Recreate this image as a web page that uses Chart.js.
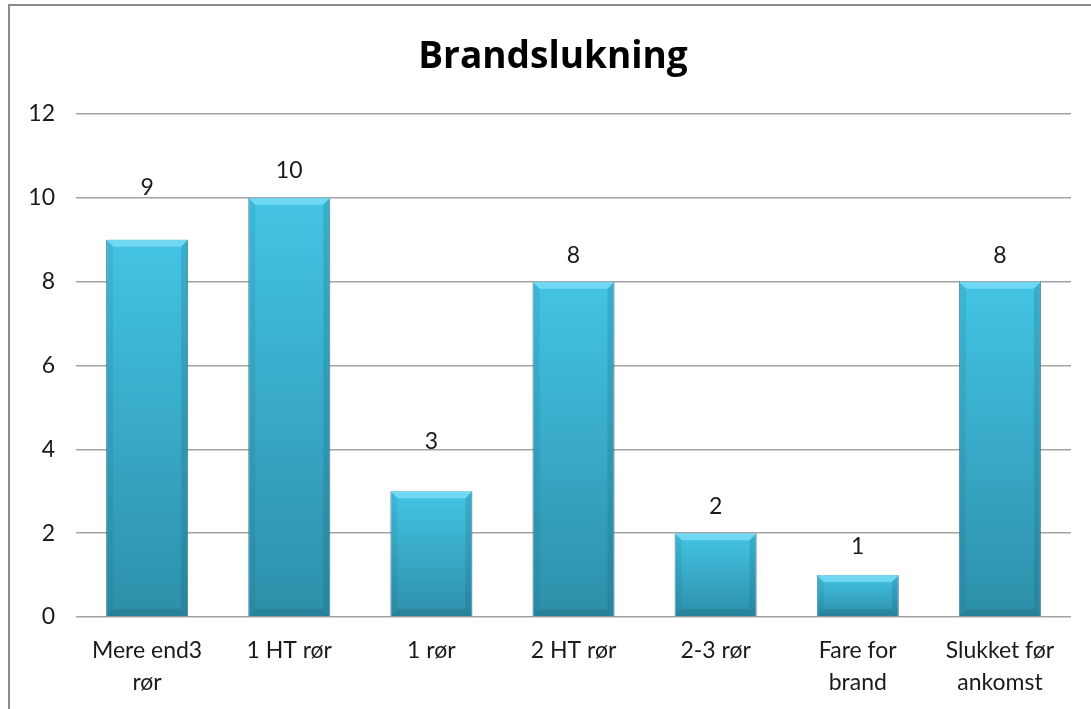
<!DOCTYPE html>
<html lang="da">
<head>
  <meta charset="UTF-8">
  <title>Brandslukning</title>
  <script src="https://cdn.jsdelivr.net/npm/chart.js"></script>
  <style>
    html, body { margin: 0; padding: 0; background: #fff; overflow: hidden; }
    #wrap { position: absolute; left: 0; top: 0; width: 1091px; height: 709px; }
    #frame { position: absolute; left: 8px; top: 4px; width: 1200px; height: 800px; border: 2px solid #8c8c8c; pointer-events: none; }
  </style>
</head>
<body>
  <div id="wrap"><canvas id="chart" width="1091" height="709"></canvas></div>
  <div id="frame"></div>
  <script>
    const titleText = 'Brandslukning';
    const categories = [['Mere end3', 'rør'], '1 HT rør', '1 rør', '2 HT rør', '2-3 rør', ['Fare for', 'brand'], ['Slukket før', 'ankomst']];
    const values = [9, 10, 3, 8, 2, 1, 8];
    const yMin = 0, yMax = 12, yStep = 2;

    const FONT = 'Lato, "Open Sans", sans-serif';

    // title drawn by hand so it can sit a bit right of the canvas centre, like the original
    const chartTitle = {
      id: 'chartTitle',
      afterDraw(chart, args, opts) {
        const c = chart.ctx;
        c.save();
        c.fillStyle = '#000';
        c.font = 'bold 37px "Open Sans", Lato, sans-serif';
        c.textAlign = 'center';
        c.textBaseline = 'middle';
        c.fillText(opts.text, opts.x, opts.y);
        c.restore();
      }
    };

    // value labels above bars, with a little bevel on each bar
    const barDecor = {
      id: 'barDecor',
      afterDatasetsDraw(chart, args, opts) {
        const c = chart.ctx;
        const meta = chart.getDatasetMeta(0);
        meta.data.forEach((bar, i) => {
          const left = bar.x - bar.width / 2, right = bar.x + bar.width / 2;
          const top = bar.y, bottom = bar.base;
          const b = 7;
          c.save();
          // top bevel
          c.fillStyle = 'rgba(120,220,245,0.85)';
          c.beginPath();
          c.moveTo(left, top); c.lineTo(right, top);
          c.lineTo(right - b, top + b); c.lineTo(left + b, top + b);
          c.closePath(); c.fill();
          // side shading
          c.fillStyle = 'rgba(20,90,115,0.2)';
          c.beginPath();
          c.moveTo(right, top); c.lineTo(right, bottom);
          c.lineTo(right - b, bottom - b); c.lineTo(right - b, top + b);
          c.closePath(); c.fill();
          c.fillStyle = 'rgba(20,90,115,0.12)';
          c.beginPath();
          c.moveTo(left, top); c.lineTo(left, bottom);
          c.lineTo(left + b, bottom - b); c.lineTo(left + b, top + b);
          c.closePath(); c.fill();
          c.fillStyle = 'rgba(20,80,100,0.22)';
          c.beginPath();
          c.moveTo(left, bottom); c.lineTo(right, bottom);
          c.lineTo(right - b, bottom - b); c.lineTo(left + b, bottom - b);
          c.closePath(); c.fill();
          // value label
          c.fillStyle = '#1a1a1a';
          c.font = '23px ' + FONT;
          c.textAlign = 'center';
          c.textBaseline = 'middle';
          c.fillText(String(values[i]), bar.x, top - opts.offsets[i]);
          c.restore();
        });
      }
    };

    new Chart(document.getElementById('chart'), {
      type: 'bar',
      data: {
        labels: categories,
        datasets: [{
          data: values,
          backgroundColor: (ctx) => {
            const chart = ctx.chart;
            if (!chart.chartArea || ctx.raw === undefined) return '#3bb6d6';
            const y = chart.scales.y;
            const g = chart.ctx.createLinearGradient(0, y.getPixelForValue(ctx.raw), 0, y.getPixelForValue(0));
            g.addColorStop(0, '#43c4e4');
            g.addColorStop(1, '#2d8fa9');
            return g;
          },
          borderColor: 'rgba(35,110,135,0.7)',
          borderWidth: 1,
          barPercentage: 0.577,
          categoryPercentage: 1
        }]
      },
      options: {
        responsive: false,
        animation: false,
        layout: { padding: { left: 0, right: 20, top: 114, bottom: 0 } },
        plugins: {
          legend: { display: false },
          tooltip: { enabled: false },
          title: { display: false },
          chartTitle: { text: titleText, x: 553, y: 57 },
          barDecor: { offsets: [52, 27, 50, 26, 27, 29, 26] }
        },
        scales: {
          x: {
            grid: { display: false, drawTicks: false },
            border: { display: false },
            ticks: {
              color: '#1a1a1a',
              font: { family: FONT, size: 23, lineHeight: 1.4 },
              padding: 17,
              maxRotation: 0,
              autoSkip: false
            },
            afterFit(scale) { scale.height = 92; }
          },
          y: {
            min: yMin,
            max: yMax,
            grid: { color: '#a3a3a3', lineWidth: 1.5, drawTicks: false },
            border: { display: false },
            ticks: {
              stepSize: yStep,
              color: '#1a1a1a',
              font: { family: FONT, size: 23 },
              padding: 21
            },
            afterFit(scale) { scale.width = 76; }
          }
        }
      },
      plugins: [barDecor, chartTitle]
    });
  </script>
</body>
</html>
